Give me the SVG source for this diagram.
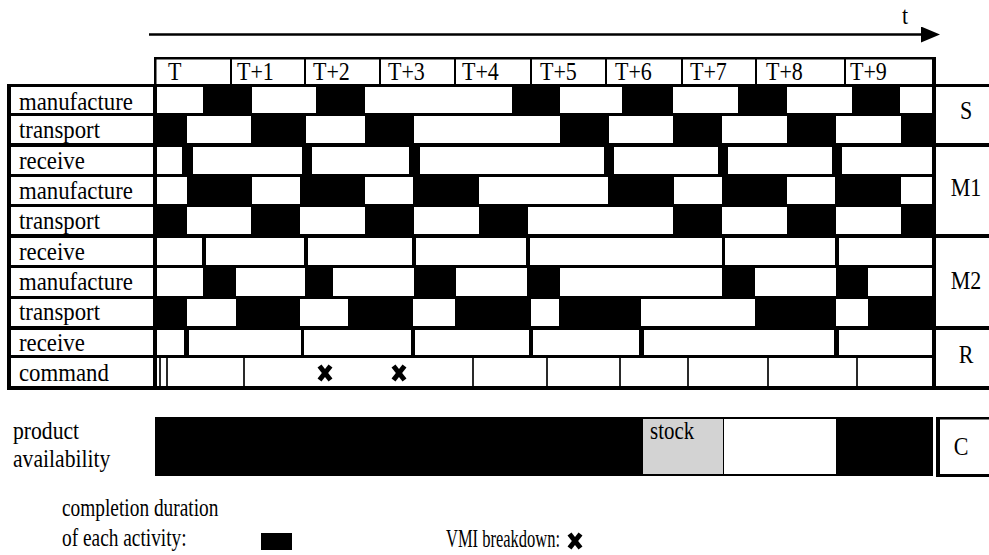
<svg xmlns="http://www.w3.org/2000/svg" width="989" height="555" viewBox="0 0 989 555">
<defs>
<style>
.t{font-family:"Liberation Serif","Times New Roman",serif;font-size:22px;fill:#000}
.l{font-size:22.8px}
.m{text-anchor:middle}
.w{fill:#fff}
.b{fill:#000}
.sep{fill:#2a2a2a}
.xl{stroke:#000;stroke-width:5;stroke-linecap:butt}
</style>
<marker id="ah" markerUnits="userSpaceOnUse" markerWidth="20" markerHeight="18" refX="1" refY="8" orient="auto">
<polygon points="0,0 19,8 0,16" fill="#000"/>
</marker>
<g id="xm">
<line class="xl" x1="-5.5" y1="-7" x2="5.5" y2="7"/>
<line class="xl" x1="5.5" y1="-7" x2="-5.5" y2="7"/>
</g>
</defs>
<rect width="989" height="555" fill="#fff"/>

<g id="connectors">
<line x1="149" y1="34.5" x2="922" y2="34.5" stroke="#000" stroke-width="2.5" marker-end="url(#ah)"/>
</g>
<text class="t" transform="translate(902 24) scale(1 1.1)">t</text>

<g id="header">
<rect x="155.25" y="58.25" width="778" height="27" fill="#fff" stroke="#000" stroke-width="2.5"/>
<rect x="932" y="57" width="4" height="30" class="b"/>
<rect x="230" y="57" width="2" height="28" class="b"/>
<rect x="304" y="57" width="2" height="28" class="b"/>
<rect x="379" y="57" width="2" height="28" class="b"/>
<rect x="454" y="57" width="2" height="28" class="b"/>
<rect x="530" y="57" width="2" height="28" class="b"/>
<rect x="605" y="57" width="2" height="28" class="b"/>
<rect x="681" y="57" width="2" height="28" class="b"/>
<rect x="755" y="57" width="2" height="28" class="b"/>
<rect x="844" y="57" width="2" height="28" class="b"/>
<text class="t" transform="translate(168 80) scale(1 1.1)">T</text>
<text class="t" transform="translate(237 80) scale(1 1.1)">T+1</text>
<text class="t" transform="translate(313 80) scale(1 1.1)">T+2</text>
<text class="t" transform="translate(388 80) scale(1 1.1)">T+3</text>
<text class="t" transform="translate(462 80) scale(1 1.1)">T+4</text>
<text class="t" transform="translate(540 80) scale(1 1.1)">T+5</text>
<text class="t" transform="translate(615 80) scale(1 1.1)">T+6</text>
<text class="t" transform="translate(690 80) scale(1 1.1)">T+7</text>
<text class="t" transform="translate(766 80) scale(1 1.1)">T+8</text>
<text class="t" transform="translate(850 80) scale(1 1.1)">T+9</text>
</g>

<g id="table">
<rect x="7" y="84" width="982" height="306" class="b"/>
</g>

<g id="labels">
<rect x="11" y="87" width="142" height="26" class="w"/>
<rect x="11" y="116" width="142" height="27" class="w"/>
<rect x="11" y="147" width="142" height="27" class="w"/>
<rect x="11" y="177" width="142" height="27" class="w"/>
<rect x="11" y="207" width="142" height="27" class="w"/>
<rect x="11" y="238" width="142" height="27" class="w"/>
<rect x="11" y="268" width="142" height="28" class="w"/>
<rect x="11" y="299" width="142" height="27" class="w"/>
<rect x="11" y="330" width="142" height="25" class="w"/>
<rect x="11" y="358" width="142" height="28" class="w"/>
<text class="t l" transform="translate(19 110) scale(1 1.1)">manufacture</text>
<text class="t l" transform="translate(19 138) scale(1 1.1)">transport</text>
<text class="t l" transform="translate(19 169) scale(1 1.1)">receive</text>
<text class="t l" transform="translate(19 199) scale(1 1.1)">manufacture</text>
<text class="t l" transform="translate(19 229) scale(1 1.1)">transport</text>
<text class="t l" transform="translate(19 260) scale(1 1.1)">receive</text>
<text class="t l" transform="translate(19 290) scale(1 1.1)">manufacture</text>
<text class="t l" transform="translate(19 320) scale(1 1.1)">transport</text>
<text class="t l" transform="translate(19 351) scale(1 1.1)">receive</text>
<text class="t l" transform="translate(19 381) scale(1 1.1)">command</text>
</g>

<g id="actors">
<rect x="936" y="87" width="53" height="56" class="w"/>
<rect x="936" y="147" width="53" height="87" class="w"/>
<rect x="936" y="238" width="53" height="88" class="w"/>
<rect x="936" y="330" width="53" height="56" class="w"/>
<text class="t m" transform="translate(966 119) scale(1 1.1)">S</text>
<text class="t m" transform="translate(966 196) scale(1 1.1)">M1</text>
<text class="t m" transform="translate(966 289) scale(1 1.1)">M2</text>
<text class="t m" transform="translate(966 363) scale(1 1.1)">R</text>
</g>

<g id="row-S-manufacture">
<rect x="157" y="87" width="46" height="26" class="w"/>
<rect x="252" y="87" width="64" height="26" class="w"/>
<rect x="365" y="87" width="147" height="26" class="w"/>
<rect x="560" y="87" width="62" height="26" class="w"/>
<rect x="673" y="87" width="65" height="26" class="w"/>
<rect x="787" y="87" width="65" height="26" class="w"/>
<rect x="900" y="87" width="32" height="26" class="w"/>
</g>
<g id="row-S-transport">
<rect x="187" y="116" width="64" height="27" class="w"/>
<rect x="306" y="116" width="59" height="27" class="w"/>
<rect x="414" y="116" width="146" height="27" class="w"/>
<rect x="609" y="116" width="64" height="27" class="w"/>
<rect x="722" y="116" width="65" height="27" class="w"/>
<rect x="836" y="116" width="65" height="27" class="w"/>
</g>
<g id="row-M1-receive">
<rect x="157" y="147" width="25" height="27" class="w"/>
<rect x="193" y="147" width="109" height="27" class="w"/>
<rect x="312" y="147" width="97" height="27" class="w"/>
<rect x="420" y="147" width="184" height="27" class="w"/>
<rect x="614" y="147" width="104" height="27" class="w"/>
<rect x="728" y="147" width="104" height="27" class="w"/>
<rect x="842" y="147" width="90" height="27" class="w"/>
</g>
<g id="row-M1-manufacture">
<rect x="157" y="177" width="30" height="27" class="w"/>
<rect x="252" y="177" width="48" height="27" class="w"/>
<rect x="365" y="177" width="48" height="27" class="w"/>
<rect x="479" y="177" width="129" height="27" class="w"/>
<rect x="674" y="177" width="48" height="27" class="w"/>
<rect x="787" y="177" width="48" height="27" class="w"/>
<rect x="901" y="177" width="31" height="27" class="w"/>
</g>
<g id="row-M1-transport">
<rect x="187" y="207" width="64" height="27" class="w"/>
<rect x="300" y="207" width="65" height="27" class="w"/>
<rect x="414" y="207" width="65" height="27" class="w"/>
<rect x="528" y="207" width="145" height="27" class="w"/>
<rect x="722" y="207" width="65" height="27" class="w"/>
<rect x="836" y="207" width="65" height="27" class="w"/>
</g>
<g id="row-M2-receive">
<rect x="157" y="238" width="45" height="27" class="w"/>
<rect x="206" y="238" width="98" height="27" class="w"/>
<rect x="308" y="238" width="104" height="27" class="w"/>
<rect x="416" y="238" width="110" height="27" class="w"/>
<rect x="530" y="238" width="192" height="27" class="w"/>
<rect x="725" y="238" width="110" height="27" class="w"/>
<rect x="839" y="238" width="93" height="27" class="w"/>
</g>
<g id="row-M2-manufacture">
<rect x="157" y="268" width="46" height="28" class="w"/>
<rect x="236" y="268" width="69" height="28" class="w"/>
<rect x="333" y="268" width="81" height="28" class="w"/>
<rect x="456" y="268" width="71" height="28" class="w"/>
<rect x="560" y="268" width="162" height="28" class="w"/>
<rect x="755" y="268" width="81" height="28" class="w"/>
<rect x="868" y="268" width="64" height="28" class="w"/>
</g>
<g id="row-M2-transport">
<rect x="187" y="299" width="49" height="27" class="w"/>
<rect x="300" y="299" width="48" height="27" class="w"/>
<rect x="413" y="299" width="42" height="27" class="w"/>
<rect x="531" y="299" width="28" height="27" class="w"/>
<rect x="641" y="299" width="114" height="27" class="w"/>
<rect x="836" y="299" width="32" height="27" class="w"/>
</g>
<g id="row-R-receive">
<rect x="157" y="330" width="27" height="25" class="w"/>
<rect x="189" y="330" width="112" height="25" class="w"/>
<rect x="304" y="330" width="107" height="25" class="w"/>
<rect x="415" y="330" width="114" height="25" class="w"/>
<rect x="533" y="330" width="106" height="25" class="w"/>
<rect x="644" y="330" width="190" height="25" class="w"/>
<rect x="839" y="330" width="93" height="25" class="w"/>
</g>
<g id="row-R-command">
<rect x="157" y="358" width="775" height="28" class="w"/>
<rect x="159" y="358" width="2" height="28" class="sep"/>
<rect x="166" y="358" width="2" height="28" class="sep"/>
<rect x="243" y="358" width="2" height="28" class="sep"/>
<rect x="472" y="358" width="2" height="28" class="sep"/>
<rect x="546" y="358" width="2" height="28" class="sep"/>
<rect x="619" y="358" width="2" height="28" class="sep"/>
<rect x="687" y="358" width="2" height="28" class="sep"/>
<rect x="767" y="358" width="2" height="28" class="sep"/>
<rect x="856" y="358" width="2" height="28" class="sep"/>
<use href="#xm" x="325" y="373"/>
<use href="#xm" x="399" y="373"/>
</g>

<g id="availability">
<text class="t l" transform="translate(13 439) scale(0.95 1.1)">product</text>
<text class="t l" transform="translate(13 467) scale(0.95 1.1)">availability</text>
<rect x="155" y="417" width="778" height="59" class="b"/>
<rect x="643" y="419" width="80" height="55" fill="#d3d3d3"/>
<rect x="724" y="419" width="112" height="55" class="w"/>
<text class="t" transform="translate(650 439) scale(0.95 1.1)">stock</text>
</g>
<g id="consumer">
<rect x="936" y="417" width="4" height="60" class="b"/>
<rect x="936" y="417" width="53" height="2.5" class="b"/>
<rect x="936" y="474" width="53" height="3" class="b"/>
<text class="t m" transform="translate(961 455) scale(1 1.1)">C</text>
</g>

<g id="legend">
<text class="t" transform="translate(62 516) scale(0.88 1.1)">completion duration</text>
<text class="t" transform="translate(62 546) scale(0.88 1.1)">of each activity:</text>
<rect x="261" y="533" width="31" height="17" class="b"/>
<text class="t" transform="translate(446 547) scale(0.75 1.1)">VMI breakdown:</text>
<use href="#xm" x="575" y="541"/>
</g>
</svg>
